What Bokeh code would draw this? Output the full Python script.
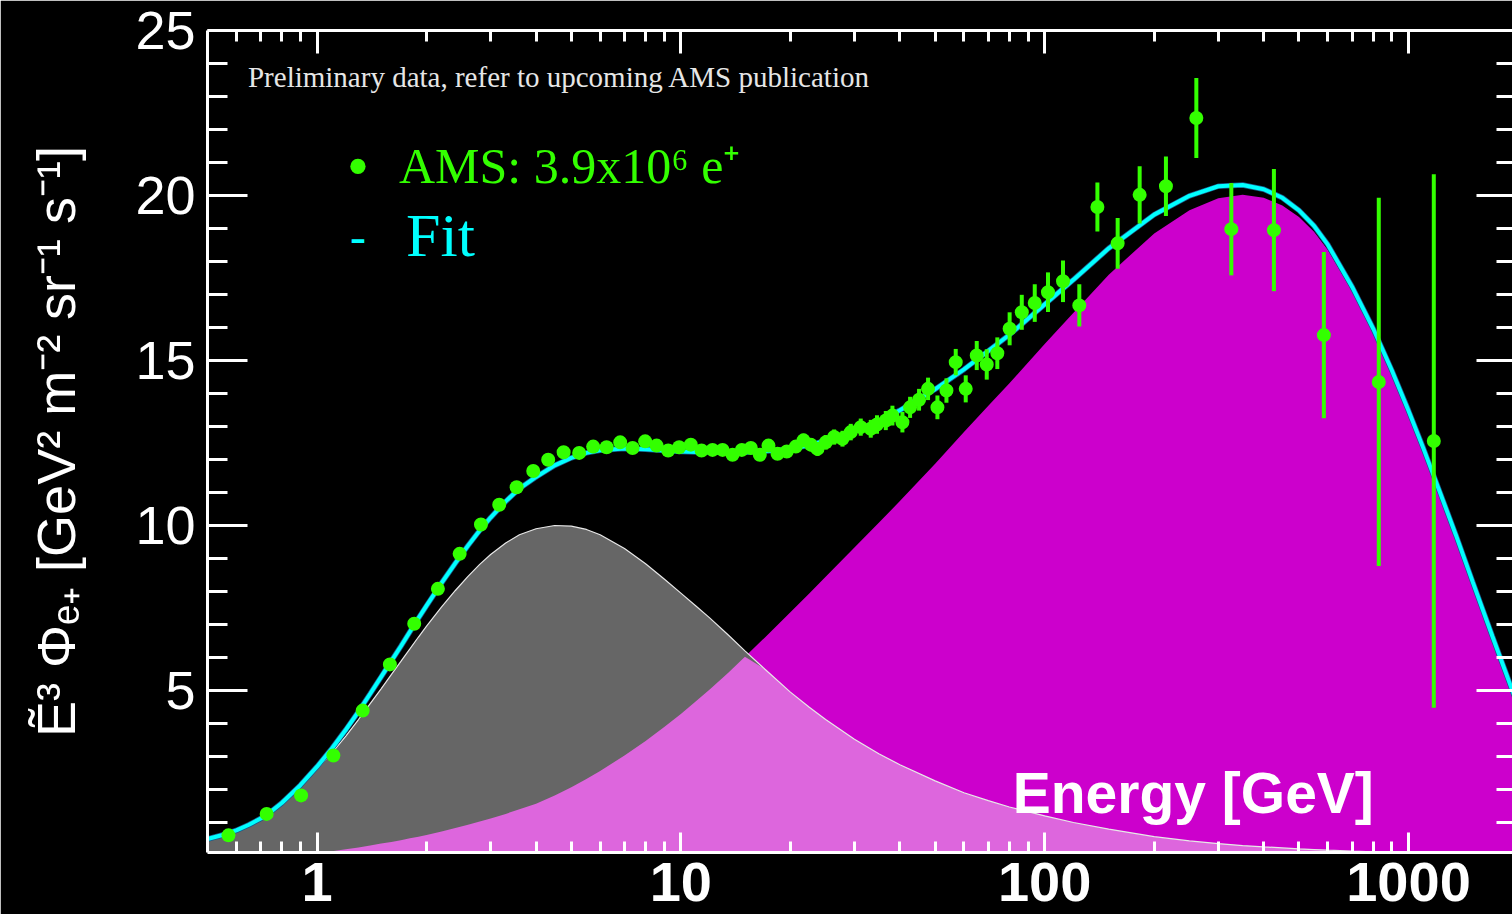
import numpy as np
from bokeh.plotting import figure
from bokeh.models import (Range1d, FixedTicker, LogAxis, LinearAxis, Label,
                          NumeralTickFormatter, ColumnDataSource)
from bokeh.embed import file_html
from bokeh.resources import INLINE

# ---------------- data ----------------
# AMS positron flux data points: energy [GeV], E^3 * flux, error
ams_energy = [0.571, 0.727, 0.904, 1.109, 1.335, 1.586, 1.850, 2.149, 2.466, 2.822,
              3.168, 3.537, 3.929, 4.319, 4.762, 5.254, 5.741, 6.250, 6.812, 7.368,
              7.978, 8.577, 9.228, 9.893, 10.65, 11.40, 12.22, 13.02, 13.87, 14.71,
              15.57, 16.48, 17.41, 18.44, 19.55, 20.70, 21.73, 22.76, 23.74, 25.02,
              26.38, 27.81, 29.31, 31.22, 33.26, 34.6, 36.58, 38.15, 40.64, 42.66,
              45.15, 47.80, 50.72, 53.7, 56.95, 60.67, 65.05, 69.3, 74.1, 80.1,
              86.5, 93.9, 102.1, 112.3, 124.5, 139.6, 158.7, 182.4, 215.4, 261.1,
              325.8, 426.6, 585.2, 828.4, 1173.5]
ams_flux = [0.61, 1.26, 1.82, 3.03, 4.39, 5.79, 7.02, 8.08, 9.14, 10.03,
            10.63, 11.16, 11.65, 11.99, 12.22, 12.20, 12.39, 12.37, 12.52, 12.35,
            12.55, 12.42, 12.27, 12.37, 12.45, 12.27, 12.29, 12.29, 12.14, 12.29,
            12.35, 12.14, 12.42, 12.17, 12.24, 12.39, 12.58, 12.45, 12.32, 12.52,
            12.68, 12.63, 12.83, 12.98, 12.93, 13.06, 13.18, 13.33, 13.13, 13.58,
            13.81, 14.14, 13.58, 14.09, 14.95, 14.14, 15.15, 14.88, 15.22, 15.96,
            16.46, 16.74, 17.07, 17.40, 16.67, 19.65, 18.55, 20.02, 20.28, 22.35,
            18.98, 18.95, 15.77, 14.35, 12.56]
ams_error = [0.05, 0.05, 0.05, 0.06, 0.06, 0.07, 0.07, 0.08, 0.08, 0.08,
             0.09, 0.09, 0.09, 0.10, 0.10, 0.10, 0.10, 0.10, 0.10, 0.11,
             0.11, 0.11, 0.12, 0.12, 0.12, 0.13, 0.13, 0.14, 0.14, 0.15,
             0.15, 0.16, 0.17, 0.17, 0.18, 0.19, 0.20, 0.20, 0.21, 0.22,
             0.23, 0.24, 0.25, 0.26, 0.27, 0.28, 0.29, 0.30, 0.31, 0.32,
             0.33, 0.34, 0.36, 0.37, 0.40, 0.41, 0.44, 0.46, 0.48, 0.50,
             0.53, 0.57, 0.60, 0.63, 0.64, 0.74, 0.77, 0.87, 0.90, 1.21,
             1.40, 1.85, 2.52, 5.58, 8.08]

# model curves (diffuse term and source term) read at these energies
curve_energy = [0.5, 0.55, 0.6, 0.65, 0.7, 0.75, 0.8, 0.9, 1.0, 1.1,
                1.2, 1.3, 1.4, 1.5, 1.6, 1.7, 1.8, 1.9, 2.0, 2.2,
                2.4, 2.6, 2.8, 3.0, 3.3, 3.6, 4.0, 4.5, 5.0, 5.5,
                6.0, 7.0, 8.0, 9.0, 10, 11, 12, 13.5, 15, 17,
                20, 22.5, 25, 30, 35, 40, 50, 60, 70, 80,
                100, 120, 150, 200, 250, 300, 350, 400, 450, 500,
                550, 600, 700, 800, 900, 1000, 1100, 1200, 1350, 1500,
                1700, 2000]
diffuse_term = [0.50, 0.62, 0.76, 0.93, 1.12, 1.34, 1.58, 2.10, 2.62, 3.12,
                3.62, 4.12, 4.60, 5.05, 5.48, 5.88, 6.26, 6.62, 6.95, 7.53,
                8.03, 8.46, 8.82, 9.12, 9.47, 9.72, 9.90, 10.00, 9.98, 9.88,
                9.72, 9.30, 8.84, 8.38, 7.95, 7.56, 7.20, 6.68, 6.20, 5.65,
                4.95, 4.50, 4.12, 3.52, 3.08, 2.75, 2.26, 1.90, 1.66, 1.47,
                1.20, 1.00, 0.80, 0.57, 0.44, 0.36, 0.30, 0.26, 0.23, 0.20,
                0.18, 0.16, 0.13, 0.11, 0.095, 0.08, 0.072, 0.065, 0.056, 0.05,
                0.042, 0.035]
source_term = [0.0, 0.0, 0.0, 0.0, 0.0, 0.005, 0.01, 0.03, 0.07, 0.13,
               0.19, 0.24, 0.30, 0.36, 0.41, 0.46, 0.52, 0.57, 0.62, 0.73,
               0.83, 0.93, 1.03, 1.12, 1.26, 1.40, 1.57, 1.82, 2.07, 2.32,
               2.56, 3.03, 3.47, 3.89, 4.29, 4.67, 5.03, 5.54, 6.02, 6.60,
               7.37, 7.93, 8.45, 9.33, 10.08, 10.74, 11.87, 12.83, 13.63, 14.31,
               15.50, 16.45, 17.60, 18.85, 19.55, 19.92, 20.02, 19.93, 19.70, 19.35,
               18.90, 18.35, 17.10, 15.85, 14.60, 13.40, 12.25, 11.15, 9.65, 8.25,
               6.60, 4.50]

x_tick_values = [1, 10, 100, 1000]
y_tick_values = [5, 10, 15, 20, 25]
x_minor_ticks = [0.6, 0.7, 0.8, 0.9] + [m * 10 ** k for k in range(0, 3) for m in range(2, 10)] + [2000]
y_minor_ticks = [v for v in range(1, 25) if v % 5 != 0]

# ---------------- derived ----------------
diff = np.array(diffuse_term)
src = np.array(source_term)
fit_total = diff + src
overlap = np.minimum(diff, src)
e_arr = np.array(ams_energy)
f_arr = np.array(ams_flux)
err_arr = np.array(ams_error)

GREEN = "#33FF00"
CYAN = "#00FFFF"
SANS = "Liberation Sans"
SERIF = "Liberation Serif"

p = figure(width=1512, height=914, x_axis_type="log",
           x_range=Range1d(0.5, 1931), y_range=Range1d(0.09, 25),
           output_backend="svg", toolbar_location=None,
           min_border_left=207, min_border_right=0, min_border_top=30, min_border_bottom=62,
           background_fill_color="black", border_fill_color="black",
           outline_line_color=None)
p.xgrid.visible = False
p.ygrid.visible = False

# areas
p.varea(x=curve_energy, y1=0, y2=src, fill_color="#CC00CC")
p.varea(x=curve_energy, y1=0, y2=diff, fill_color="#666666")
p.varea(x=curve_energy, y1=0, y2=overlap, fill_color="#DD66DD")
p.line(x=curve_energy, y=diff, line_color="#E8E8E8", line_width=1.2)

# fit
p.line(x=curve_energy, y=fit_total, line_color="#1A5A8A", line_width=5.5)
p.line(x=curve_energy, y=fit_total, line_color=CYAN, line_width=4)

# data
src_data = ColumnDataSource(dict(x=e_arr, y=f_arr, lo=f_arr - err_arr, hi=f_arr + err_arr))
p.segment(x0="x", y0="lo", x1="x", y1="hi", source=src_data, line_color=GREEN, line_width=4)
p.scatter(x="x", y="y", source=src_data, size=14, fill_color=GREEN, line_color=None)

# ---------------- axes ----------------
def style_axis(ax, tick_in, minor_in, line=True):
    ax.major_tick_in = tick_in
    ax.major_tick_out = 0
    ax.minor_tick_in = minor_in
    ax.minor_tick_out = 0
    ax.major_tick_line_color = "white"
    ax.minor_tick_line_color = "white"
    ax.major_tick_line_width = 3
    ax.minor_tick_line_width = 3
    if line:
        ax.axis_line_color = "white"
        ax.axis_line_width = 3
    else:
        ax.axis_line_color = None

def hide_labels(ax):
    ax.major_label_text_font_size = "1px"
    ax.major_label_text_alpha = 0
    ax.major_label_standoff = 0

xb = p.xaxis[0]
xb.ticker = FixedTicker(ticks=x_tick_values, minor_ticks=x_minor_ticks)
xb.formatter = NumeralTickFormatter(format="0")
xb.major_label_text_font = SANS
xb.major_label_text_font_size = "56px"
xb.major_label_text_font_style = "bold"
xb.major_label_text_color = "white"
xb.major_label_standoff = 10
style_axis(xb, 20, 11)

xt = LogAxis(ticker=FixedTicker(ticks=x_tick_values, minor_ticks=x_minor_ticks))
hide_labels(xt)
style_axis(xt, 23, 11)
p.add_layout(xt, "above")

yl = p.yaxis[0]
yl.ticker = FixedTicker(ticks=y_tick_values, minor_ticks=y_minor_ticks)
yl.major_label_text_font = SANS
yl.major_label_text_font_size = "54px"
yl.major_label_text_color = "white"
yl.major_label_standoff = 12
yl.axis_label = "Ẽ³ Φₑ₊ [GeV² m⁻² sr⁻¹ s⁻¹]"
yl.axis_label_text_font = SANS
yl.axis_label_text_font_size = "54px"
yl.axis_label_text_font_style = "normal"
yl.axis_label_text_color = "white"
yl.axis_label_standoff = 46
style_axis(yl, 40, 20)

yr = LinearAxis(ticker=FixedTicker(ticks=y_tick_values, minor_ticks=y_minor_ticks))
hide_labels(yr)
style_axis(yr, 36, 16, line=False)
p.add_layout(yr, "right")

# ---------------- texts ----------------
p.add_layout(Label(x=0.646, y=23.58, text="Preliminary data, refer to upcoming AMS publication",
                   text_font=SERIF, text_font_size="29px", text_color="#E6E6E6",
                   text_baseline="middle"))
p.add_layout(Label(x=1.296, y=20.88, text="•", text_font=SERIF, text_font_size="64px",
                   text_color=GREEN, text_align="center", text_baseline="middle"))
p.add_layout(Label(x=1.68, y=20.88, text="AMS: 3.9x10⁶ e⁺", text_font=SERIF,
                   text_font_size="50px", text_color=GREEN, text_baseline="middle"))
p.add_layout(Label(x=1.296, y=18.73, text="-", text_font=SERIF, text_font_size="48px",
                   text_color=CYAN, text_align="center", text_baseline="middle"))
p.add_layout(Label(x=1.756, y=18.8, text="Fit", text_font=SERIF, text_font_size="62px",
                   text_color=CYAN, text_baseline="middle"))
p.add_layout(Label(x=81.7, y=1.9, text="Energy [GeV]", text_font=SANS, text_font_size="57px",
                   text_font_style="bold", text_color="white", text_baseline="middle"))

open("out.html", "w").write(file_html(p, INLINE))
